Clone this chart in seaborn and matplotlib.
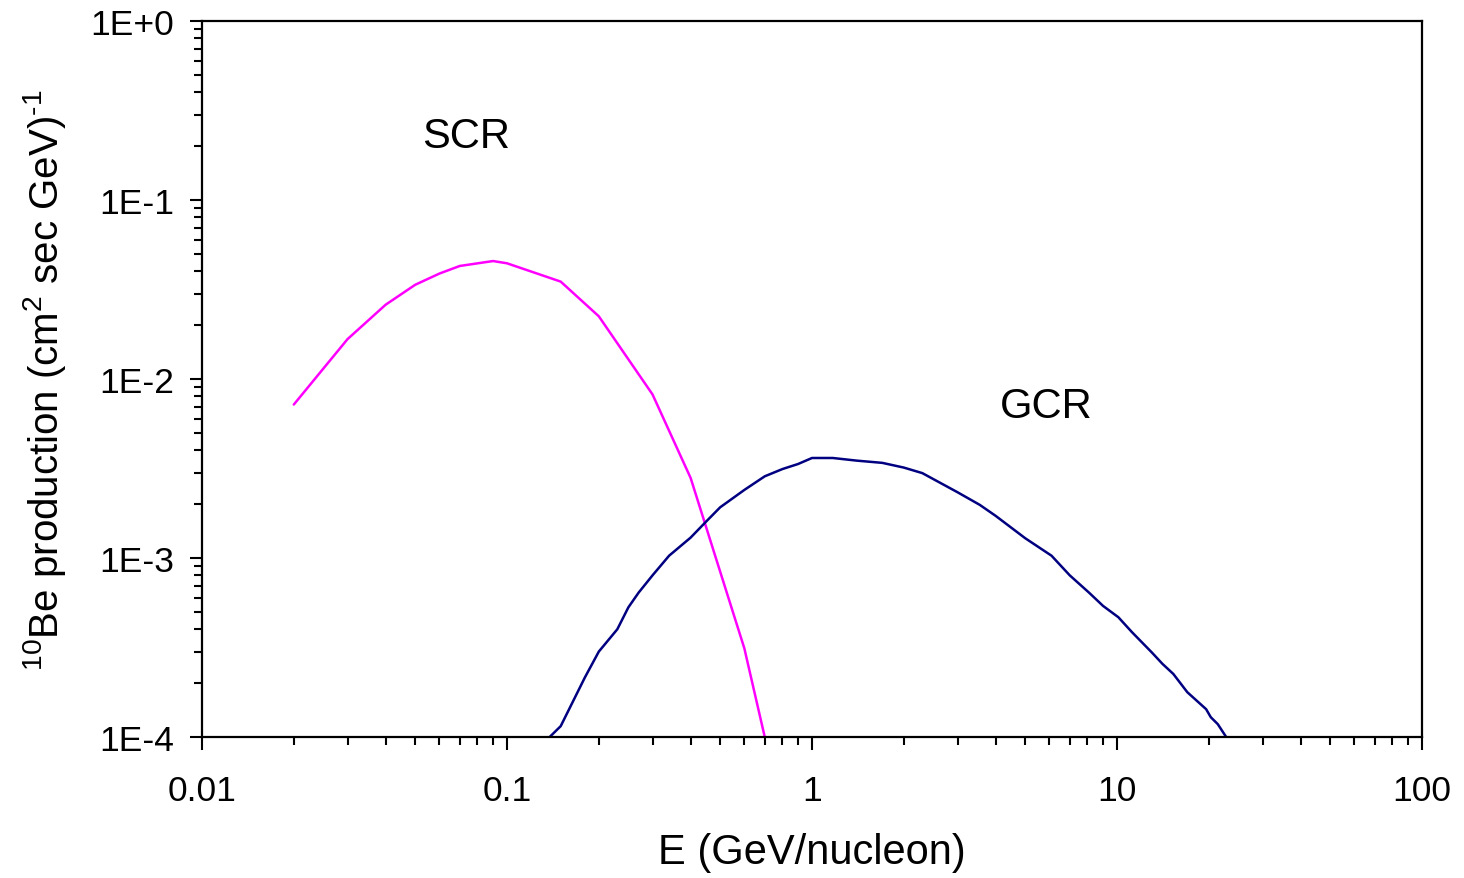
import matplotlib
matplotlib.use("Agg")
import matplotlib.pyplot as plt
import matplotlib.ticker as mticker
import seaborn as sns
import pandas as pd
import numpy as np

# ---- data ----
scr_E = [0.02, 0.03, 0.04, 0.05, 0.06, 0.07, 0.09, 0.10, 0.15, 0.20, 0.30, 0.40, 0.60, 0.70]
scr_P = [7.2e-3, 1.67e-2, 2.6e-2, 3.36e-2, 3.88e-2, 4.28e-2, 4.56e-2, 4.43e-2, 3.5e-2,
         2.24e-2, 8.2e-3, 2.8e-3, 3.13e-4, 1.0e-4]

gcr_E = [0.138, 0.15, 0.18, 0.20, 0.23, 0.25, 0.27, 0.30, 0.34, 0.40, 0.45, 0.50, 0.60,
         0.70, 0.80, 0.90, 1.0, 1.17, 1.4, 1.7, 2.0, 2.3, 3.0, 3.55, 4.0, 5.0, 6.1,
         7.0, 8.1, 9.0, 10.1, 11.2, 13.0, 14.1, 15.3, 17.0, 19.6, 20.3, 21.4, 22.8]
gcr_P = [1.0e-4, 1.15e-4, 2.15e-4, 3.0e-4, 4.0e-4, 5.3e-4, 6.4e-4, 8.0e-4, 1.03e-3,
         1.30e-3, 1.6e-3, 1.92e-3, 2.4e-3, 2.86e-3, 3.14e-3, 3.35e-3, 3.62e-3, 3.62e-3,
         3.5e-3, 3.4e-3, 3.2e-3, 2.98e-3, 2.33e-3, 1.98e-3, 1.72e-3, 1.29e-3, 1.03e-3,
         8.0e-4, 6.4e-4, 5.4e-4, 4.67e-4, 3.85e-4, 2.97e-4, 2.56e-4, 2.25e-4, 1.78e-4,
         1.43e-4, 1.29e-4, 1.18e-4, 1.0e-4]

x_ticks = [0.01, 0.1, 1, 10, 100]
x_tick_labels = ["0.01", "0.1", "1", "10", "100"]
y_ticks = [1e-4, 1e-3, 1e-2, 1e-1, 1e0]
y_tick_labels = ["1E-4", "1E-3", "1E-2", "1E-1", "1E+0"]

scr_color = "#FF00FF"
gcr_color = "#000080"

# ---- style ----
sns.set_style("white")
plt.rcParams["font.family"] = ["Liberation Sans", "DejaVu Sans"]
plt.rcParams["mathtext.default"] = "regular"
plt.rcParams["mathtext.fontset"] = "custom"
plt.rcParams["mathtext.rm"] = "Liberation Sans"
for k in ["text.color", "axes.labelcolor", "xtick.color", "ytick.color", "axes.edgecolor"]:
    plt.rcParams[k] = "black"

fig = plt.figure(figsize=(14.64, 8.79), dpi=100)
ax = fig.add_axes([202 / 1464, 1 - 738 / 879, (1422 - 202) / 1464, (738 - 22) / 879])

df_scr = pd.DataFrame({"E": scr_E, "P": scr_P})
df_gcr = pd.DataFrame({"E": gcr_E, "P": gcr_P})
sns.lineplot(data=df_scr, x="E", y="P", ax=ax, color=scr_color, linewidth=1.8, sort=False)
sns.lineplot(data=df_gcr, x="E", y="P", ax=ax, color=gcr_color, linewidth=1.8, sort=False)

ax.set_xscale("log")
ax.set_yscale("log")
ax.set_xlim(0.01, 100)
ax.set_ylim(1e-4, 1)

ax.xaxis.set_major_locator(mticker.FixedLocator(x_ticks))
ax.xaxis.set_major_formatter(mticker.FixedFormatter(x_tick_labels))
ax.yaxis.set_major_locator(mticker.FixedLocator(y_ticks))
ax.yaxis.set_major_formatter(mticker.FixedFormatter(y_tick_labels))
ax.xaxis.set_minor_locator(mticker.LogLocator(base=10, subs=np.arange(2, 10)))
ax.yaxis.set_minor_locator(mticker.LogLocator(base=10, subs=np.arange(2, 10)))
ax.xaxis.set_minor_formatter(mticker.NullFormatter())
ax.yaxis.set_minor_formatter(mticker.NullFormatter())

ax.tick_params(which="both", direction="out", bottom=True, left=True, top=False, right=False,
               color="black", labelcolor="black", width=1.5)
ax.tick_params(which="major", length=9)
ax.tick_params(which="minor", length=6)
ax.tick_params(axis="x", which="major", labelsize=25.5, pad=18)
ax.tick_params(axis="y", which="major", labelsize=25.5, pad=11)

for s in ax.spines.values():
    s.set_visible(True)
    s.set_color("black")
    s.set_linewidth(1.6)

ax.set_xlabel("E (GeV/nucleon)", fontsize=30, labelpad=18)
ax.set_ylabel("$^{10}$Be production (cm$^{2}$ sec GeV)$^{\u20101}$", fontsize=29, labelpad=16)

ax.text(0.0734, 0.198, "SCR", fontsize=30, ha="center", va="baseline")
ax.text(5.85, 6.13e-3, "GCR", fontsize=30, ha="center", va="baseline")

fig.savefig("out.png", dpi=100, facecolor="white")
